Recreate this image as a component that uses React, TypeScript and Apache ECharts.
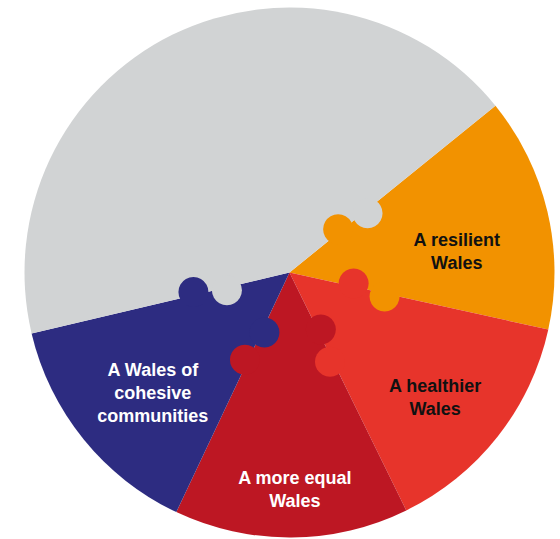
import React, { useEffect, useRef } from 'react';
import * as echarts from 'echarts';

// Data: seven well-being goals, four highlighted, three merged in grey
const GOALS = [
  'A resilient Wales',
  'A healthier Wales',
  'A more equal Wales',
  'A Wales of cohesive communities',
  'Other well-being goals',
];
const LABELS = [
  'A resilient\nWales',
  'A healthier\nWales',
  'A more equal\nWales',
  'A Wales of\ncohesive\ncommunities',
  '',
];
const SHARES = [1, 1, 1, 1, 3];

// Styles / layout
const COLORS = ['#f29200', '#e7342b', '#bd1723', '#2d2c81', '#d1d3d4'];
const LABEL_COLORS = ['#111111', '#111111', '#ffffff', '#ffffff', '#ffffff'];
const START_ANGLE = 39;
const CENTER = [289.5, 272.5];
const RADIUS = 265;
const LABEL_RADIUS = [0.636, 0.723, 0.82, 0.687, 0];
const LABEL_SHIFT = [-6.2, -2.4, 1.0, 2.35, 0];
const KNOB_R = 15;
const KNOB_NEAR = 65;
const KNOB_FAR = 98;
const KNOB_OFFSET = 3;

function sliceBounds(): number[] {
  const total = SHARES.reduce((a, b) => a + b, 0);
  const bounds: number[] = [START_ANGLE];
  let cum = 0;
  for (const v of SHARES) {
    cum += v;
    bounds.push(START_ANGLE - (360 * cum) / total);
  }
  return bounds;
}

function buildKnobs() {
  const bounds = sliceBounds();
  const n = SHARES.length;
  const els: any[] = [];
  for (let k = 1; k <= n; k++) {
    const th = (bounds[k] * Math.PI) / 180;
    const high = k - 1;
    const low = k % n;
    const ux = Math.cos(th), uy = -Math.sin(th);
    const nx = -Math.sin(th), ny = -Math.cos(th);
    els.push({
      type: 'circle',
      z: 100,
      silent: true,
      shape: {
        cx: CENTER[0] + KNOB_NEAR * ux + KNOB_OFFSET * nx,
        cy: CENTER[1] + KNOB_NEAR * uy + KNOB_OFFSET * ny,
        r: KNOB_R,
      },
      style: { fill: COLORS[low] },
    });
    els.push({
      type: 'circle',
      z: 100,
      silent: true,
      shape: {
        cx: CENTER[0] + KNOB_FAR * ux - KNOB_OFFSET * nx,
        cy: CENTER[1] + KNOB_FAR * uy - KNOB_OFFSET * ny,
        r: KNOB_R,
      },
      style: { fill: COLORS[high] },
    });
  }
  return els;
}

export default function App() {
  const ref = useRef<HTMLDivElement>(null);
  useEffect(() => {
    if (!ref.current) return;
    const chart = echarts.init(ref.current, null, { renderer: 'svg' });
    const bounds = sliceBounds();
    chart.setOption({
      animation: false,
      backgroundColor: '#ffffff',
      graphic: { elements: buildKnobs() },
      series: [
        {
          type: 'pie',
          silent: true,
          center: CENTER,
          radius: [0, RADIUS],
          startAngle: START_ANGLE,
          clockwise: true,
          itemStyle: { borderWidth: 0 },
          labelLine: { show: false },
          label: {
            show: true,
            position: 'inside',
            fontFamily: 'Liberation Sans, Arial, sans-serif',
            fontWeight: 'bold',
            fontSize: 18,
            lineHeight: 23,
            align: 'center',
          },
          labelLayout: (params: any) => {
            const i = params.dataIndex;
            const mid = (bounds[i] + bounds[i + 1]) / 2 + LABEL_SHIFT[i];
            const a = (mid * Math.PI) / 180;
            const r = RADIUS * LABEL_RADIUS[i];
            return {
              x: CENTER[0] + r * Math.cos(a),
              y: CENTER[1] - r * Math.sin(a),
              align: 'center',
              verticalAlign: 'middle',
            };
          },
          data: GOALS.map((name, i) => ({
            name,
            value: SHARES[i],
            itemStyle: { color: COLORS[i] },
            label: {
              show: LABELS[i] !== '',
              formatter: LABELS[i],
              color: LABEL_COLORS[i],
            },
          })),
        },
      ],
    });
    return () => chart.dispose();
  }, []);
  return (
    <div
      ref={ref}
      style={{ position: 'absolute', left: 0, top: 0, width: 560, height: 539 }}
    />
  );
}
